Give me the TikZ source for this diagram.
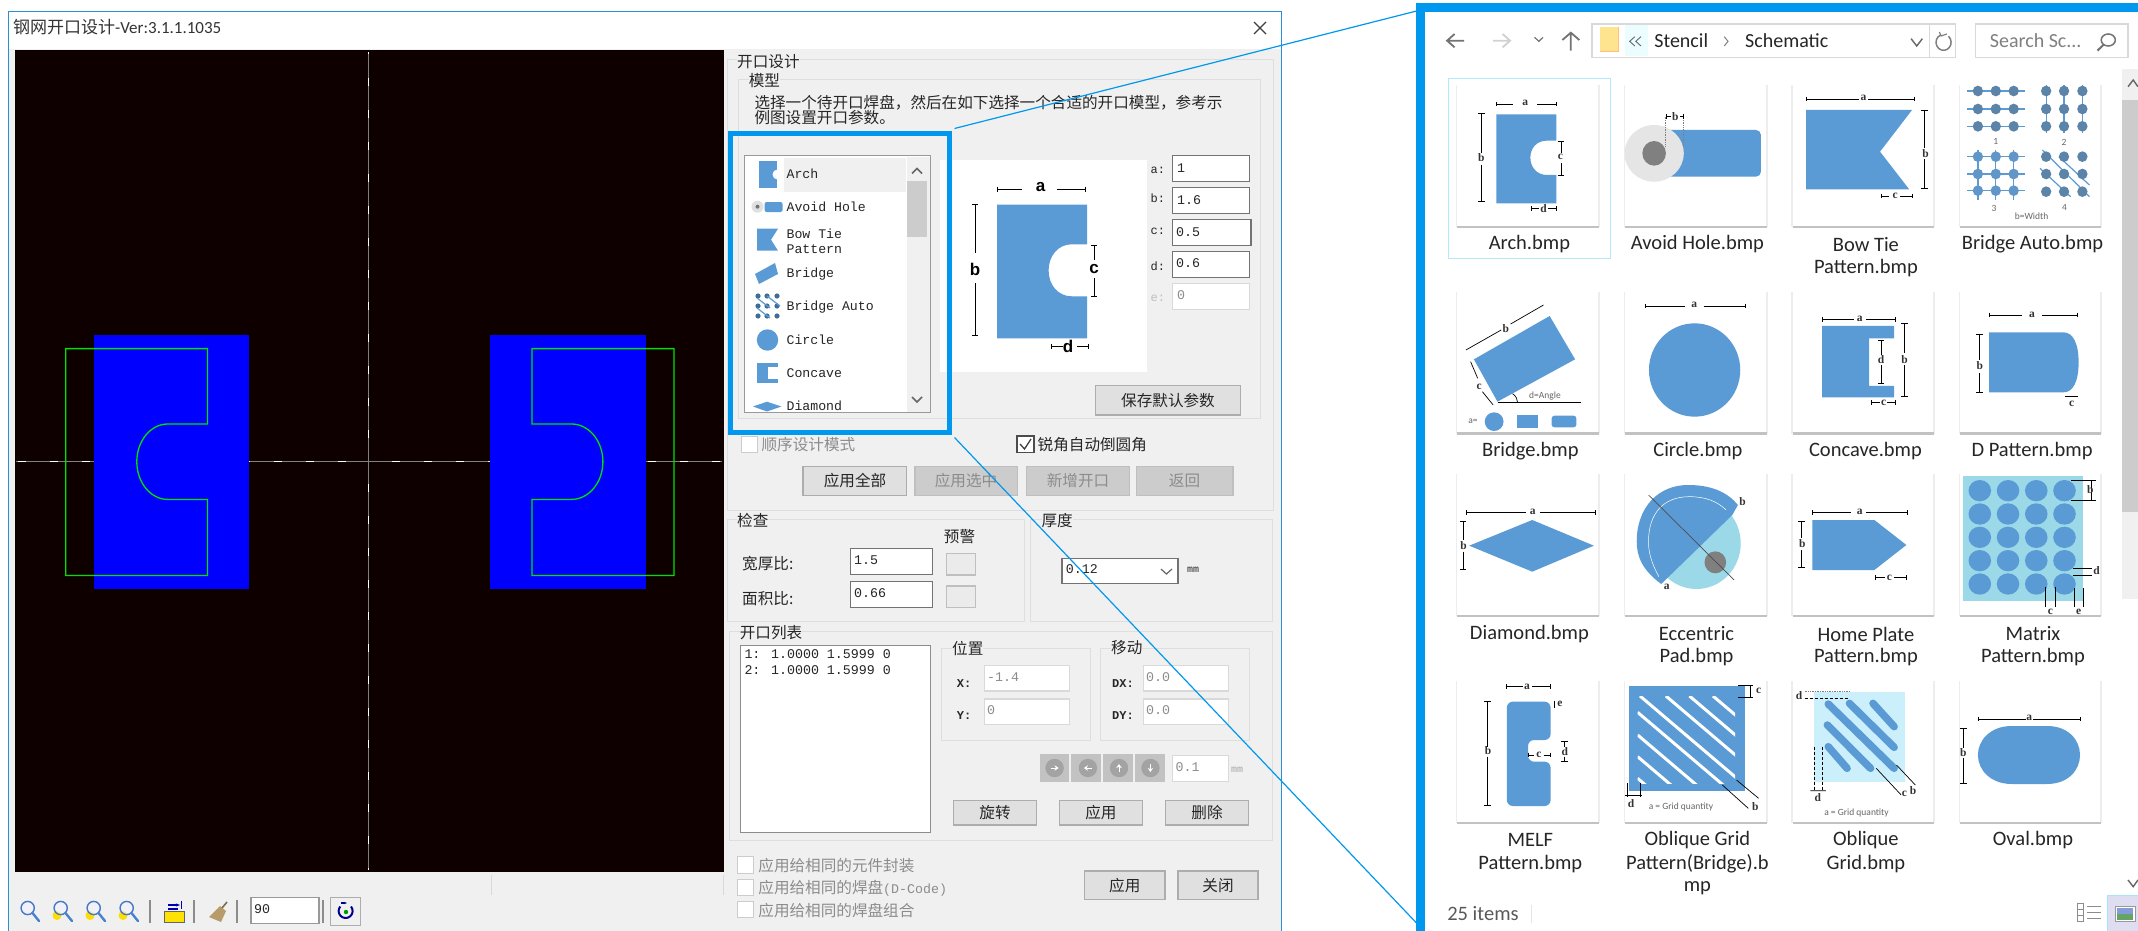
\documentclass[tikz,border=0pt]{standalone}
\usepackage{fontspec}
\setmainfont{Liberation Sans}
\newfontfamily\cjk{Noto Sans CJK SC}
\newfontfamily\lat{Carlito}
\newfontfamily\mon{Liberation Mono}
\newfontfamily\thf{Liberation Serif}
\usetikzlibrary{arrows.meta}
\definecolor{canvasblack}{HTML}{0F0000}
\definecolor{winblue}{HTML}{2B8FD8}
\definecolor{hl}{HTML}{0098EE}
\definecolor{padblue}{HTML}{0000FF}
\definecolor{sblue}{HTML}{5B9BD5}
\definecolor{panelgray}{HTML}{F0F0F0}
\definecolor{ltblue}{HTML}{9BD8E8}
\definecolor{folderyel}{HTML}{FFE48F}
\definecolor{brushtan}{HTML}{B89B6A}
\tikzset{
  zh/.style={font=\cjk\fontsize{15.6}{15.6}\selectfont,inner sep=0pt,anchor=west,text=black!85},
  zhc/.style={zh,anchor=center},
  zhd/.style={zh,text=black!45},
  ttl/.style={font=\cjk\fontsize{15.6}{15.6}\selectfont,inner sep=0pt,anchor=west,text=black!85,fill=panelgray,inner xsep=0pt},
  mono/.style={font=\mon\fontsize{13.3}{13.3}\selectfont,inner sep=0pt,anchor=west,text=black!85},
  monod/.style={mono,text=black!45},
  listfont/.style={mono,font=\mon\fontsize{13.2}{15}\selectfont,align=left},
  frameg/.style={draw=black!13,line width=1pt},
  inp/.style={draw=black!55,fill=white,line width=1.1pt},
  dinp/.style={draw=black!15,fill=white,line width=1.1pt},
  btn/.style={draw=black!32,fill=black!12,line width=1.2pt},
  dbtn/.style={draw=black!25,fill=black!20,line width=1.2pt},
  cb/.style={draw=black!20,fill=white,line width=1pt},
  cnv/.style={draw=white,line width=1.4pt,dash pattern=on 8pt off 24pt,dash phase=9pt},
  cnt/.style={draw=black!50,line width=.7pt},
  grn/.style={draw={rgb,255:red,0;green,225;blue,0},line width=1.3pt},
  dimln/.style={draw=black,line width=.7pt},
  thl/.style={font=\thf\bfseries\fontsize{11.5}{11.5}\selectfont,inner sep=0pt,text=black!80},
  thg/.style={font=\lat\fontsize{9.5}{9.5}\selectfont,inner sep=0pt,text=black!60},
  capt/.style={font=\lat\fontsize{20.5}{23}\selectfont,inner sep=0pt,text=black!85},
  hlbox/.style={draw=hl,line width=5pt},
  conn/.style={draw=hl,line width=1.2pt},
}
% thumbnail frame, zoom coordinates
\newcommand{\thumbbox}[4]{\fill[black!7] (#1-3,#3) rectangle (#2+4,#4+4);\fill[black!24] (#1,#4) rectangle (#2+2,#4+7);\fill[white] (#1,#3) rectangle (#2,#4);}
\newcommand{\dimh}[5]{\draw[dimln] (#2,#1)--(#3,#1) (#4,#1)--(#5,#1) (#2,#1-7)--(#2,#1+7) (#5,#1-7)--(#5,#1+7);}
\newcommand{\dimv}[5]{\draw[dimln] (#1,#2)--(#1,#3) (#1,#4)--(#1,#5) (#1-7,#2)--(#1+7,#2) (#1-7,#5)--(#1+7,#5);}
\newcommand{\magn}[2]{%
  \ifx#2n\else\fill[yellow!80!orange] (#1-5,915.5) circle (4.5);\fi
  \draw[draw={rgb,255:red,70;green,120;blue,200},fill=blue!5,fill opacity=.6,line width=1.4pt] (#1-1.3,908) circle (6.6);
  \draw[draw={rgb,255:red,75;green,130;blue,205},line width=2.4pt,line cap=round] (#1+3.5,913)--(#1+10,921);}
\begin{document}
\begin{tikzpicture}[x=1pt,y=-1pt]
\useasboundingbox (0,0) rectangle (2138,931);
\fill[white] (0,0) rectangle (2138,931);
%% window
\fill[panelgray] (8.5,49) rectangle (1281,931);
\draw[winblue,line width=1pt] (8.5,931)--(8.5,12)--(1281,12)--(1281,931);
\node[inner sep=0pt,anchor=west,font=\cjk\fontsize{17}{17}\selectfont,text=black!80] (title) at (13,27.5) {钢网开口设计{\lat\fontsize{17}{17}\selectfont -Ver:3.1.1.1035}};
\draw[black!75,line width=1.2pt] (1254,22)--(1266,34) (1266,22)--(1254,34);
%% canvas
\fill[canvasblack] (14.7,50.5) rectangle (724,872);
\draw[cnt] (16,461.4)--(722,461.4) (368.7,52)--(368.7,870);
\draw[cnv] (368.7,461.4)--(722,461.4);
\draw[cnv] (368.7,461.4)--(16,461.4);
\draw[cnv] (368.7,461.4)--(368.7,870);
\draw[cnv] (368.7,461.4)--(368.7,52);
\fill[padblue] (94,335) rectangle (249,589);
\fill[padblue] (490,335) rectangle (646,589);
\draw[grn] (65.7,348.6)--(207.5,348.6)--(207.5,424)--(167.6,424) .. controls (150.6,424) and (136.8,441) .. (136.8,461.7) .. controls (136.8,482.4) and (150.6,499.4) .. (167.6,499.4)--(207.5,499.4)--(207.5,575.4)--(65.7,575.4)--cycle;
\draw[grn] (674,348.6)--(532,348.6)--(532,424)--(571.6,424) .. controls (588.8,424) and (602.9,441) .. (602.9,461.7) .. controls (602.9,482.4) and (588.8,499.4) .. (571.6,499.4)--(532,499.4)--(532,575.4)--(674,575.4)--cycle;
%% toolbar
\draw[black!15,line width=1pt] (491,875)--(491,895) (723,875)--(723,895);
\magn{29}{n}\magn{62}{y}\magn{95}{y}\magn{128}{y}
\draw[black!45,line width=1.1pt] (150,900)--(150,923) (194,900)--(194,923) (237,900)--(237,923) (323,900)--(323,923);
\fill[yellow!85!orange] (164,911.7) rectangle (184,922.3);
\draw[black!60,line width=.6pt] (164,911.7) rectangle (184,922.3);
\draw[blue!70!black,line width=1.4pt,-{Stealth[length=4pt]}] (168,905)--(180,905);
\draw[blue!70!black,line width=1pt] (181.5,901)--(181.5,909);
\draw[blue!70!black,line width=1.2pt] (168,909)--(178,909);
\fill[brushtan] (209,917)--(220,906)--(226,911)--(221,922)--cycle;
\draw[brushtan!70!black,line width=1.6pt] (222,908)--(227,902);
\draw[inp,draw=black!40] (251,897.5) rectangle (319,923.5);
\node[mono] (rotval) at (254,909.5) {90};
\draw[btn,fill=panelgray] (330.6,897.5) rectangle (360.4,925.5);
\draw[blue!55!black,line width=2pt] (351,906.5) arc (-40:220:7);
\draw[blue!55!black,line width=1.5pt,-{Stealth[length=3pt]}] (341,903)--(347,903);
\fill[green!60!black] (346,912) circle (2.2);
%% frames
\draw[frameg] (727,60) rectangle (1273,510.7);
\node[ttl] (t1) at (737,62) {开口设计};
\draw[frameg] (738.6,79.3) rectangle (1260,418);
\node[ttl] (t2) at (748.6,81) {模型};
\node[zh] (d1) at (754.3,103) {选择一个待开口焊盘，然后在如下选择一个合适的开口模型，参考示};
\node[zh] (d2) at (754.3,118) {例图设置开口参数。};
%% list
\draw[draw=black!40,fill=white,line width=1.4pt] (744.3,155.7) rectangle (930.7,412.7);
\fill[panelgray] (783.6,158) rectangle (905.7,191.7);
\fill[panelgray] (907,157) rectangle (929.5,411.8);
\fill[black!20] (907,181) rectangle (927,236.7);
\draw[black!60,line width=1.5pt] (912,173.5)--(917,168.5)--(922,173.5);
\draw[black!60,line width=1.5pt] (912,397)--(917,402)--(922,397);
\begin{scope}
\clip (746,157) rectangle (905,411.5);
\node[listfont] (l1) at (786.4,174) {Arch};
\node[listfont] (l2) at (786.4,207) {Avoid Hole};
\node[listfont] (l3) at (786.4,241) {Bow Tie\\Pattern};
\node[listfont] (l4) at (786.4,274) {Bridge};
\node[listfont] (l5) at (786.4,307) {Bridge Auto};
\node[listfont] (l6) at (786.4,340) {Circle};
\node[listfont] (l7) at (786.4,373) {Concave};
\node[listfont] (l8) at (786.4,406) {Diamond};
\fill[sblue] (758.6,160.7) rectangle (777,188.3);
\fill[white] (777.5,174.5) circle (5);
\fill[black!12] (757.5,206.7) circle (6);
\fill[black!55] (757.5,206.7) circle (2);
\fill[sblue,rounded corners=2pt] (764.6,202) rectangle (782.5,212);
\fill[sblue] (757,228.7)--(778,228.7)--(771,239.7)--(778,250.7)--(757,250.7)--cycle;
\fill[sblue] (775,263)--(778,274)--(759,284)--(755,274)--cycle;
\foreach \yy in {296,306,316}\foreach \xx in {758,767,777}{\fill[sblue!70!black] (\xx,\yy) circle (2.6);}
\draw[sblue,line width=1.2pt] (757,298)--(770,308)  (767,296)--(780,306) (757,308)--(770,318);
\fill[sblue] (767.5,340) circle (10.7);
\fill[sblue] (757,362.7) rectangle (778,383.3);
\fill[white] (768,367) rectangle (779,379);
\fill[sblue] (753,406.5)--(767,401.7)--(781.4,406.5)--(767,411.5)--cycle;
\end{scope}
%% preview
\fill[white] (940,160) rectangle (1146.8,371.7);
\fill[sblue] (997,204.7)--(1087,204.7)--(1087,244.3)--(1071.8,244.3) .. controls (1058,244.3) and (1048.6,256) .. (1048.6,270.3) .. controls (1048.6,285) and (1058,296.3) .. (1071.8,296.3)--(1087,296.3)--(1087,338.3)--(997,338.3)--cycle;
\draw[dimln,line width=.9pt] (997,189.3)--(1022,189.3) (1056.8,189.3)--(1085.7,189.3) (997,186.5)--(997,192) (1085.7,186.5)--(1085.7,192)
  (975,204)--(975,253.3) (975,283.3)--(975,335) (972,204)--(978,204) (972,335)--(978,335)
  (1094.3,245)--(1094.3,260) (1094.3,278)--(1094.3,296) (1091,245)--(1097,245) (1091,296)--(1097,296)
  (1051,346)--(1063,346) (1077,346)--(1088.6,346) (1051,343.5)--(1051,348.5) (1088.6,343.5)--(1088.6,348.5);
\foreach \nm/\xx/\yy/\ltr in {pa/1040.7/187.5/a,pb/975/269/b,pc/1094/269/c,pd/1068/346/d}{
  \node[inner sep=0pt,font=\bfseries\fontsize{17}{17}\selectfont] (\nm) at (\xx,\yy) {\ltr};}
%% parameters
\foreach \nm/\yy/\lb in {a/170/a:,b/198/b:,c/231.7/c:,d/266/d:}{
  \node[mono,font=\mon\fontsize{12}{12}\selectfont] (lab\nm) at (1150.5,\yy) {\lb};}
\draw[inp] (1172.5,155.7) rectangle (1249.6,181.7);
\draw[inp] (1172.5,187.7) rectangle (1249.6,213.7);
\draw[inp] (1172.5,219.3) rectangle (1251,245.7);
\draw[inp] (1172.5,251.7) rectangle (1249.6,277.3);
\draw[dinp] (1172.5,283.3) rectangle (1249.6,309.3);
\node[mono] (va) at (1177,168) {1};
\node[mono] (vb) at (1177,200) {1.6};
\node[mono] (vc) at (1176,231.7) {0.5};
\node[mono] (vd) at (1176,263) {0.6};
\node[monod] (ve) at (1177,295) {0};
\node[mono,font=\mon\fontsize{12}{12}\selectfont,text=black!25] (labe) at (1150.5,298) {e:};
\draw[btn] (1095.7,385.7) rectangle (1240.4,415);
\node[zhc] (bsave) at (1168,400.5) {保存默认参数};
%% check boxes
\draw[cb] (741.4,436.7) rectangle (757.5,452.3);
\node[zhd] (cseq) at (761.4,445) {顺序设计模式};
\draw[draw=black!70,fill=white,line width=1.1pt] (1017,436) rectangle (1034,452.3);
\draw[black!75,line width=1.3pt] (1020,444)--(1024.5,449)--(1031,439);
\node[zh] (caut) at (1037.5,445) {锐角自动倒圆角};
\draw[btn] (803,466.7) rectangle (906.8,495.7);
\draw[dbtn] (915,466.7) rectangle (1017.5,495.7);
\draw[dbtn] (1026.4,466.7) rectangle (1129.3,495.7);
\draw[dbtn] (1136.4,466.7) rectangle (1232.9,495.7);
\node[zhc] (b1) at (855,481) {应用全部};
\node[zhc,text=black!45] (b2) at (966,481) {应用选中};
\node[zhc,text=black!45] (b3) at (1078,481) {新增开口};
\node[zhc,text=black!45] (b4) at (1184.5,481) {返回};
%% check
\draw[frameg] (727,519.3) rectangle (1024.3,621.7);
\node[ttl] (t3) at (737,521) {检查};
\node[zhc] (t3b) at (959.5,536.7) {预警};
\node[zh] (w1) at (742,564) {宽厚比:};
\node[zh] (w2) at (742,598.3) {面积比:};
\draw[inp] (850.4,548.7) rectangle (932.9,574.3);
\draw[inp] (850.4,581.7) rectangle (932.9,607.3);
\node[mono] (v1) at (854,560.5) {1.5};
\node[mono] (v2) at (854,593.5) {0.66};
\draw[btn,fill=black!8,draw=black!25] (946.4,553.3) rectangle (975.7,575);
\draw[btn,fill=black!8,draw=black!25] (946.4,586) rectangle (975.7,607.7);
%% thick
\draw[frameg] (1030.7,519.3) rectangle (1272.5,621.7);
\node[ttl] (t4) at (1041.4,521) {厚度};
\draw[inp] (1062,558.3) rectangle (1178,583.7);
\node[mono] (tv) at (1065.7,569.3) {0.12};
\draw[black!60,line width=1.2pt] (1161,569)--(1166.4,574)--(1172,569);
\node[mono,font=\mon\fontsize{10}{10}\selectfont] (tmm) at (1187,570) {mm};
%% list of openings
\draw[frameg] (729.6,631) rectangle (1272.5,840.7);
\node[ttl] (t5) at (739.6,633) {开口列表};
\draw[draw=black!45,fill=white,line width=1.2pt] (740.4,645.7) rectangle (930.7,832.7);
\node[mono,font=\mon\fontsize{13.3}{16}\selectfont,align=left,anchor=north west] (lst) at (744.3,649) {1: 1.0000 1.5999 0\\2: 1.0000 1.5999 0};
\draw[frameg] (941.4,648) rectangle (1090.7,740);
\node[ttl] (t6) at (952,648) {位置};
\draw[frameg] (1100.7,648) rectangle (1249.6,740);
\node[ttl] (t7) at (1111,648) {移动};
\node[mono,font=\mon\bfseries\fontsize{12}{12}\selectfont,anchor=center] (lx) at (964,683.3) {X:};
\node[mono,font=\mon\bfseries\fontsize{12}{12}\selectfont,anchor=center] (ly) at (964,715.3) {Y:};
\node[mono,font=\mon\bfseries\fontsize{12}{12}\selectfont,anchor=center] (ldx) at (1123,683.3) {DX:};
\node[mono,font=\mon\bfseries\fontsize{12}{12}\selectfont,anchor=center] (ldy) at (1123,715.3) {DY:};
\draw[dinp] (984.3,665.7) rectangle (1069.3,691);
\draw[dinp] (984.3,699) rectangle (1069.3,724.3);
\draw[dinp] (1143.2,665.7) rectangle (1228.2,691);
\draw[dinp] (1143.2,699) rectangle (1228.2,724.3);
\node[monod] (vx) at (987,677.3) {-1.4};
\node[monod] (vy) at (987,710) {0};
\node[monod] (vdx) at (1146,677.3) {0.0};
\node[monod] (vdy) at (1146,710) {0.0};
\foreach \xa/\xb/\cx/\ang in {1039.6/1069.3/1054.6/0,1071.4/1101.4/1087.9/180,1103.2/1132.9/1119/90,1135.4/1165.4/1150.4/-90}{
  \fill[black!24] (\xa,754.3) rectangle (\xb,781.7);
  \fill[black!36] (\cx,768) circle (9.2);
  \draw[white,line width=1pt,-{Stealth[length=4pt,width=5.5pt]},rotate around={\ang:(\cx,768)}] (\cx-4,768)--(\cx+4,768);
}
\draw[dinp] (1172.5,755.7) rectangle (1228.2,781.3);
\node[monod] (vstep) at (1175.4,767) {0.1};
\node[monod,font=\mon\fontsize{10}{10}\selectfont,text=black!35] (mm2) at (1231,770) {mm};
\draw[btn] (953.2,800.7) rectangle (1036.8,825);
\draw[btn] (1059.3,800.7) rectangle (1142.5,825);
\draw[btn] (1165.7,800.7) rectangle (1248.6,825);
\node[zhc] (r1) at (995,813) {旋转};
\node[zhc] (r2) at (1100.9,813) {应用};
\node[zhc] (r3) at (1207,813) {删除};
%% bottom checks
\draw[cb] (737.9,856.7) rectangle (753.9,873.3);
\draw[cb] (737.9,879.3) rectangle (753.9,895.3);
\draw[cb] (737.9,901.7) rectangle (753.9,917.7);
\node[zhd] (c1) at (758.2,865.7) {应用给相同的元件封装};
\node[zhd] (c2) at (758.2,888.3) {应用给相同的焊盘{\mon\fontsize{13.3}{13.3}\selectfont (D-Code)}};
\node[zhd] (c3) at (758.2,911) {应用给相同的焊盘组合};
\draw[btn] (1084.6,871) rectangle (1165,899.3);
\draw[btn] (1177.9,871) rectangle (1257.9,899.3);
\node[zhc] (o1) at (1124.8,885.5) {应用};
\node[zhc] (o2) at (1218,885.5) {关闭};

%% right panel
\fill[white] (1420,7) rectangle (2138,931);
\draw[hl,line width=8.6pt] (1420.6,931)--(1420.6,7.7)--(2138,7.7);
\coordinate (panelTL) at (1416.5,11);
\coordinate (panelBL) at (1416.5,923);
%% highlight
\node[hlbox,minimum width=219pt,minimum height=299pt,inner sep=0pt] (hlb) at (840,283) {};
\draw[conn] (hlb.north east)++(2.5,-2.5) -- (panelTL);
\draw[conn] (hlb.south east)++(2.5,2.5) -- (panelBL);
%% explorer chrome, zoom coordinates
\begin{scope}[shift={(1400,0)},x=0.4706pt,y=-0.33333pt]
\draw[black!55,line width=1.8pt] (100,122)--(136,122) (116,102)--(100,122)--(116,142);
\draw[black!18,line width=1.8pt] (198,122)--(234,122) (218,102)--(234,122)--(218,142);
\draw[black!55,line width=1.2pt] (286,112)--(295,124)--(304,112);
\draw[black!55,line width=1.8pt] (363,152)--(363,98) (345,120)--(363,98)--(381,120);
\draw[draw=black!15,fill=white,line width=1.1pt] (408,72) rectangle (1180,172);
\fill[folderyel] (424,82) rectangle (465,155);
\draw[orange!50,line width=.8pt] (424,155)--(465,155)--(465,82);
\fill[blue!8!cyan!8] (478,75) rectangle (527,168);
\draw[black!60,line width=.9pt] (499,110)--(488,124)--(499,138) (512,110)--(501,124)--(512,138);
\node[font=\lat\fontsize{20}{20}\selectfont,inner sep=0pt,anchor=west,text=black!85] (addr1) at (540,122) {Stencil};
\draw[black!50,line width=1pt] (689,110)--(697,124)--(689,138);
\node[font=\lat\fontsize{20}{20}\selectfont,inner sep=0pt,anchor=west,text=black!85] (addr2) at (733,122) {Schematic};
\draw[black!60,line width=1.4pt] (1086,116)--(1098,138)--(1110,116);
\draw[black!15,line width=1pt] (1125,75)--(1125,170);
\draw[black!50,line width=1.5pt] (1165.3,108.6) arc (-50:250:16 and 24);
\draw[black!50,line width=1.2pt] (1146,96)--(1150,108)--(1162,102);
\draw[draw=black!15,fill=white,line width=1.1pt] (1223,72) rectangle (1547,172);
\node[font=\lat\fontsize{20}{20}\selectfont,inner sep=0pt,anchor=west,text=black!50] (srch) at (1253,122) {Search Sc...};
\draw[black!55,line width=1.5pt] (1505,120) circle [x radius=15,y radius=18];
\draw[black!55,line width=2pt] (1495,134)--(1482,152);
%% selection
\draw[draw=blue!30!cyan!30,line width=1pt] (102,236) rectangle (448,777);
%% scrollbar
\fill[panelgray] (1535,208) rectangle (1568,1798);
\fill[black!20] (1535,300) rectangle (1568,1535);
\draw[black!60,line width=1.4pt] (1547,260)--(1558,240)--(1568,260);
%% thumbs row 1
\foreach \xa/\xb in {122/420,478/777,834/1132,1190/1488}{
 \thumbbox{\xa}{\xb}{255}{677}
 \thumbbox{\xa}{\xb}{875}{1297}
 \thumbbox{\xa}{\xb}{1423}{1845}
 \thumbbox{\xa}{\xb}{2043}{2465}}
%% Arch
\fill[sblue] (205,343)--(332,343)--(332,422)--(312,422) .. controls (290,422) and (277,445) .. (277,473) .. controls (277,500) and (290,525) .. (312,525)--(332,525)--(332,610)--(205,610)--cycle;
\dimh{312}{205}{240}{292}{332}\node[thl] (ta) at (266,310) {a};
\dimv{173}{340}{460}{495}{605}\node[thl] (tb) at (173,472) {b};
\dimv{342}{425}{460}{490}{525}\node[thl] (tc) at (341,472) {c};
\dimh{625}{280}{295}{315}{333}\node[thl] (td) at (305,625) {d};
%% Avoid hole
\fill[sblue,rounded corners=5pt] (540,390) rectangle (767,530);
\fill[black!10] (540,460) circle [x radius=63,y radius=85];
\fill[black!50] (540,460) circle [x radius=25,y radius=37];
\draw[dimln,densely dotted,black!50] (563,350)--(563,440) (603,350)--(603,440);
\dimh{350}{565}{575}{595}{603}\node[thl] (tab) at (585,350) {b};
%% Bow tie
\fill[sblue] (863,330)--(1088,330)--(1020,455)--(1082,568)--(863,568)--cycle;
\dimh{297}{863}{975}{995}{1092}\node[thl] (tba) at (985,295) {a};
\dimv{1115}{330}{445}{478}{565}\node[thl] (tbb) at (1117,460) {b};
\dimh{588}{1022}{1040}{1062}{1088}\node[thl] (tbc) at (1052,588) {c};
%% Bridge auto
\foreach \yy in {273,327,379}{\draw[sblue,line width=1.2pt] (1205,\yy)--(1328,\yy);\foreach \xx in {1228,1266,1304}{\fill[sblue!70!gray!90!black] (\xx,\yy) circle [x radius=11,y radius=16];}}
\foreach \xx in {1373,1411,1450}{\draw[sblue,line width=1.2pt] (\xx,255)--(\xx,400);\foreach \yy in {273,327,379}{\fill[sblue!70!gray!90!black] (\xx,\yy) circle [x radius=11,y radius=16];}}
\foreach \yy in {470,522,572}{\draw[sblue,line width=1.2pt] (1205,\yy)--(1328,\yy);}
\foreach \xx in {1228,1266,1304}{\draw[sblue,line width=1.2pt] (\xx,450)--(\xx,600);\foreach \yy in {470,522,572}{\fill[sblue!85!gray] (\xx,\yy) circle [x radius=11,y radius=16];}}
\draw[sblue,line width=1.2pt] (1360,505)--(1425,590) (1400,470)--(1465,555) (1365,450)--(1465,590);
\foreach \xx in {1373,1411,1450}{\foreach \yy in {470,522,575}{\fill[sblue!70!gray!90!black] (\xx,\yy) circle [x radius=11,y radius=16];}}
\node[thg] (g1) at (1266,423) {1};\node[thg] (g2) at (1411,428) {2};\node[thg] (g3) at (1262,625) {3};\node[thg] (g4) at (1412,623) {4};\node[thg] (g5) at (1342,648) {b=Width};
%% Bridge
\fill[sblue] (318,948)--(372,1078)--(207,1205)--(157,1078)--cycle;
\draw[dimln] (140,1050)--(215,990) (235,972)--(305,915);\node[thl] (bb) at (225,985) {b};
\draw[dimln] (150,1085)--(165,1135) (175,1175)--(198,1215);\node[thl] (bc) at (168,1160) {c};
\draw[dimln] (208,1208)--(385,1208);\draw[dimln] (250,1208) arc (0:-50:30 and 35);
\node[thg] (bd) at (308,1187) {d=Angle};
\node[thg] (ba) at (155,1265) {a=};
\fill[sblue] (200,1265) circle [x radius=20,y radius=28];
\fill[sblue] (248,1245) rectangle (293,1285);
\fill[sblue,rounded corners=3pt] (322,1247) rectangle (375,1282);
%% Circle
\fill[sblue] (626,1110) circle [x radius=97,y radius=140];
\dimh{918}{522}{605}{645}{733}\node[thl] (ca) at (625,915) {a};
%% Concave
\fill[sblue] (897,978)--(1050,978)--(1050,1015)--(997,1015)--(997,1158)--(1050,1158)--(1050,1192)--(897,1192)--cycle;
\dimh{958}{897}{965}{990}{1052}\node[thl] (ka) at (977,958) {a};
\dimv{1072}{970}{1060}{1095}{1190}\node[thl] (kb) at (1072,1078) {b};
\dimv{1022}{1020}{1065}{1095}{1150}\node[thl] (kd) at (1022,1080) {d};
\dimh{1208}{1002}{1020}{1035}{1052}\node[thl] (kc) at (1028,1208) {c};
%% D pattern
\fill[sblue] (1252,997)--(1410,997) .. controls (1430,997) and (1442,1030) .. (1442,1087) .. controls (1442,1145) and (1430,1177) .. (1410,1177)--(1252,1177)--cycle;
\dimh{945}{1252}{1322}{1365}{1440}\node[thl] (da) at (1343,945) {a};
\dimv{1231}{1002}{1080}{1120}{1177}\node[thl] (db) at (1232,1097) {b};
\draw[dimln] (1413,1190)--(1440,1190);\node[thl] (dc) at (1427,1212) {c};
%% captions
\node[capt] (c01) at (275,733) {Arch.bmp};
\node[capt] (c02) at (632,733) {Avoid Hole.bmp};
\node[capt] (c03) at (990,733) {Bow Tie};
\node[capt] (c03b) at (990,803) {Pattern.bmp};
\node[capt] (c04) at (1344,733) {Bridge Auto.bmp};
\node[capt] (c05) at (277,1353) {Bridge.bmp};
\node[capt] (c06) at (633,1353) {Circle.bmp};
\node[capt] (c07) at (989,1353) {Concave.bmp};
\node[capt] (c08) at (1343,1353) {D Pattern.bmp};
\end{scope}
\begin{scope}[shift={(1400,460)},x=0.4706pt,y=-0.33333pt]
%% Diamond
\fill[sblue] (147,257)--(281,180)--(412,257)--(281,335)--cycle;
\dimh{158}{142}{268}{297}{415}\node[thl] (ia) at (282,157) {a};
\dimv{134}{185}{240}{275}{328}\node[thl] (ib) at (135,257) {b};
%% Eccentric
\fill[ltblue] (630,250) circle [x radius=94,y radius=137];
\fill[sblue] (555,372) .. controls (515,330) and (503,290) .. (503,245) .. controls (503,140) and (550,75) .. (612,75) .. controls (660,75) and (695,95) .. (718,135)--(706,165)--cycle;
\draw[white,line width=.5pt] (550,350) .. controls (535,310) and (528,280) .. (528,245) .. controls (528,160) and (560,110) .. (615,110) .. controls (650,110) and (675,125) .. (693,150);
\fill[black!50] (670,307) circle [x radius=23,y radius=33];
\draw[dimln,black!70] (528,105)--(710,360);
\node[thl] (ea) at (567,380) {a};\node[thl] (eb) at (728,125) {b};
%% Home plate
\fill[sblue] (876,180)--(1008,180)--(1076,255)--(1008,330)--(876,330)--cycle;
\dimh{157}{876}{958}{990}{1078}\node[thl] (ha) at (977,155) {a};
\dimv{853}{185}{235}{270}{322}\node[thl] (hb) at (855,252) {b};
\dimh{353}{1010}{1030}{1050}{1075}\node[thl] (hc) at (1040,353) {c};
%% Matrix
\fill[ltblue] (1196,48) rectangle (1452,423);
\foreach \yy in {92,162,232,302,372}{\foreach \xx in {1232,1292,1352,1412}{\fill[sblue] (\xx,\yy) circle [x radius=24,y radius=32];}}
\draw[dimln] (1425,62)--(1478,62) (1425,120)--(1478,120) (1468,62)--(1468,120);
\draw[dimln] (1430,325)--(1470,325) (1430,345)--(1470,345);
\draw[dimln] (1372,380)--(1372,440) (1392,380)--(1392,440) (1432,385)--(1432,440) (1452,385)--(1452,440);
\node[thl] (mb) at (1467,90) {b};\node[thl] (md) at (1480,332) {d};\node[thl] (mc) at (1382,455) {c};\node[thl] (me) at (1442,455) {e};
%% MELF
\fill[sblue,rounded corners=6pt] (227,725)--(320,725)--(320,840)--(272,840)--(272,905)--(320,905)--(320,1038)--(227,1038)--cycle;
\dimh{680}{225}{262}{280}{320}\node[thl] (fa) at (270,680) {a};
\dimv{186}{725}{860}{890}{1035}\node[thl] (fb) at (187,873) {b};
\draw[dimln] (328,722)--(328,745);\node[thl] (fe) at (340,733) {e};
\dimv{350}{845}{860}{890}{905}\node[thl] (fd) at (350,875) {d};
\dimh{885}{272}{285}{305}{320}\node[thl] (fc) at (295,885) {c};
%% Oblique grid bridge
\fill[sblue] (487,677) rectangle (733,992);
\begin{scope}
\clip (505,708) rectangle (712,970);
\foreach \xa in {510,565,615,665}{\draw[white,line width=3pt] (\xa,708)--(\xa+260,1020);}
\foreach \ya in {757,825,890,955}{\draw[white,line width=3pt] (505,\ya)--(765,\ya+312);}
\end{scope}
\draw[dimln] (718,677)--(750,677) (718,712)--(750,712) (745,677)--(745,712);
\draw[dimln] (484,970)--(484,1010) (510,970)--(510,1010) (478,1005)--(515,1005);
\draw[dimln] (685,975)--(740,1045) (715,960)--(762,1015);
\node[thl] (oc) at (762,692) {c};\node[thl] (od) at (491,1030) {d};\node[thl] (ob) at (755,1040) {b};
\node[thg] (og) at (597,1040) {a = Grid quantity};
%% Oblique grid
\fill[cyan!20!white] (880,697) rectangle (1073,967);
\draw[sblue,line width=7.5pt,line cap=round] (1005,730)--(1050,800) (955,730)--(1050,862) (910,732)--(1050,925) (908,795)--(1000,925) (910,860)--(950,925);
\draw[dimln,densely dotted,black!50] (860,695)--(955,695);
\draw[dimln,densely dashed] (860,715)--(955,715);
\draw[dimln,densely dashed] (880,860)--(880,990) (897,860)--(897,990);
\draw[dimln] (872,992)--(905,992) (1012,925)--(1065,1005) (1055,915)--(1095,975);
\node[thl] (qd) at (848,708) {d};\node[thl] (qe) at (888,1012) {d};\node[thl] (qc) at (1072,1003) {c};\node[thl] (qb) at (1090,992) {b};
\node[thg] (qg) at (970,1060) {a = Grid quantity};
%% Oval
\fill[sblue] (1300,798)--(1375,798) .. controls (1420,798) and (1445,840) .. (1445,885) .. controls (1445,930) and (1420,972) .. (1375,972)--(1300,972) .. controls (1255,972) and (1228,930) .. (1228,885) .. controls (1228,840) and (1255,798) .. (1300,798)--cycle;
\dimh{777}{1228}{1330}{1345}{1445}\node[thl] (va1) at (1337,775) {a};
\dimv{1197}{805}{865}{895}{970}\node[thl] (vb1) at (1197,878) {b};
%% captions
\node[capt] (c09) at (275,522) {Diamond.bmp};
\node[capt] (c10) at (630,522) {Eccentric};
\node[capt] (c10b) at (630,592) {Pad.bmp};
\node[capt] (c11) at (990,522) {Home Plate};
\node[capt] (c11b) at (990,592) {Pattern.bmp};
\node[capt] (c12) at (1345,522) {Matrix};
\node[capt] (c12b) at (1345,592) {Pattern.bmp};
\node[capt] (c13) at (277,1140) {MELF};
\node[capt] (c13b) at (277,1212) {Pattern.bmp};
\node[capt] (c14) at (632,1140) {Oblique Grid};
\node[capt] (c14b) at (632,1212) {Pattern(Bridge).b};
\node[capt] (c14c) at (632,1285) {mp};
\node[capt] (c15) at (990,1140) {Oblique};
\node[capt] (c15b) at (990,1212) {Grid.bmp};
\node[capt] (c16) at (1345,1140) {Oval.bmp};
%% status
\draw[black!60,line width=1.4pt] (1547,1260)--(1558,1280)--(1568,1260);
\node[capt,anchor=west,text=black!65] (stat) at (100,1362) {25 items};
\draw[black!10,line width=.8pt] (280,1335)--(280,1390);
\draw[black!45,line width=.8pt] (1440,1330) rectangle (1452,1385) (1440,1348)--(1452,1348) (1440,1366)--(1452,1366);
\draw[black!45,line width=.8pt] (1460,1338)--(1490,1338) (1460,1357)--(1490,1357) (1460,1376)--(1490,1376);
\fill[cyan!15!blue!12] (1503,1305) rectangle (1568,1413);
\draw[blue!30!cyan!35,line width=1pt] (1503,1413)--(1503,1305)--(1568,1305);
\fill[white] (1520,1340) rectangle (1562,1385);
\draw[black!40,line width=.6pt] (1520,1340) rectangle (1562,1385);
\fill[cyan!40!blue!50] (1524,1345) rectangle (1558,1362);
\fill[green!40!black!60] (1524,1362) rectangle (1558,1380);
\end{scope}
\end{tikzpicture}
\end{document}
